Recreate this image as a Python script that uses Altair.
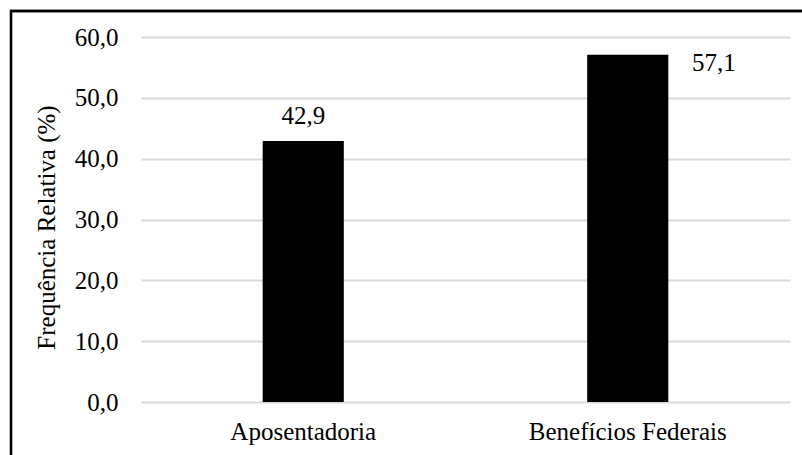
import altair as alt
import pandas as pd

categories = ["Aposentadoria", "Benefícios Federais"]
values = [42.9, 57.1]
label_side = ["top", "right"]

df = pd.DataFrame({"cat": categories, "val": values, "side": label_side})

FONT = "Liberation Serif"
FS = 25

x_enc = alt.X("cat:N", sort=categories,
              scale=alt.Scale(paddingInner=0.75, paddingOuter=0.375),
              axis=alt.Axis(title=None, labelAngle=0, ticks=False, tickSize=0, domain=False,
                            labelPadding=17, labelFontSize=FS, labelFont=FONT, labelLimit=0,
                            labelColor="black", grid=False))
y_enc = alt.Y("val:Q", scale=alt.Scale(domain=[0, 60], nice=False),
              axis=alt.Axis(title="Frequência Relativa (%)", values=[0, 10, 20, 30, 40, 50, 60],
                            labelExpr="replace(format(datum.value, '.1f'), '.', ',')",
                            ticks=False, tickSize=0, domain=False, labelPadding=23,
                            labelFontSize=FS, labelFont=FONT, labelColor="black",
                            titleFontSize=FS, titleFont=FONT, titleColor="black",
                            titleFontWeight="normal", titlePadding=15, titleY=190,
                            grid=True, gridColor="#d9d9d9", gridWidth=2))

base = alt.Chart(df)

bars = base.mark_bar(color="black").encode(x=x_enc, y=y_enc)

lab = base.transform_calculate(
    txt="replace(format(datum.val, '.1f'), '.', ',')"
)

lab_top = lab.transform_filter(alt.datum.side == "top").mark_text(
    font=FONT, fontSize=FS, color="black", baseline="alphabetic", dy=-17
).encode(x=alt.X("cat:N", sort=categories), y="val:Q", text="txt:N")

lab_right = lab.transform_filter(alt.datum.side == "right").mark_text(
    font=FONT, fontSize=FS, color="black", baseline="alphabetic", dy=16, dx=86
).encode(x=alt.X("cat:N", sort=categories), y="val:Q", text="txt:N")

frame = base.mark_rect(fill=None, stroke="black", strokeWidth=2.3).encode(
    x=alt.value(-130), x2=alt.value(700), y=alt.value(-26), y2=alt.value(450)
)

chart = alt.layer(bars, lab_top, lab_right, frame).properties(
    width=649, height=365,
    autosize=alt.AutoSizeParams(type="none"),
    padding={"left": 141, "top": 37, "right": 12, "bottom": 53},
).configure_view(stroke=None)

chart.save("out.html", embed_options={"renderer": "svg", "actions": False})
